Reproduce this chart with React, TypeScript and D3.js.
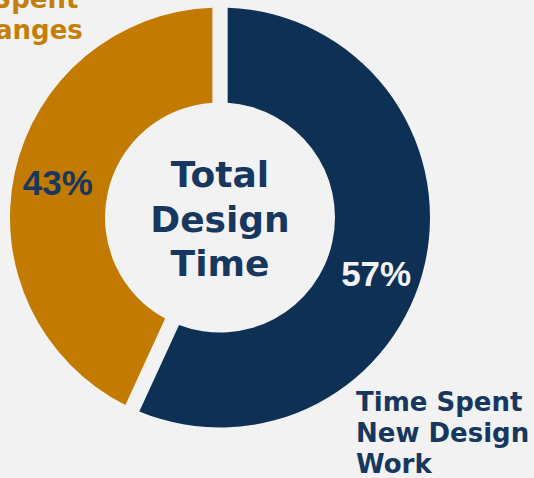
import React from 'react';
import * as d3 from 'd3';

interface Slice {
    name: string;
    value: number;
}

const sliceNames = ['Time Spent New Design Work', 'Time Spent on Changes'];
const sliceValues = [57, 43];
const sliceColors = ['#0e3055', '#c27a00'];
const pctColors = ['#f2f2f2', '#17375e'];
const centerLines = ['Total', 'Design', 'Time'];
const newWorkLines = ['Time Spent', 'New Design', 'Work'];
const changesLines = ['Time Spent', 'on Changes'];

const width = 534;
const height = 478;

export default function App() {
    const cx = 220;
    const cy = 217.5;
    const outerR = 210;
    const innerR = 115;

    const data: Slice[] = sliceNames.map((name, i) => ({ name, value: sliceValues[i] }));

    const pie = d3.pie<Slice>()
        .value(d => d.value)
        .sort(null)
        .padAngle(0.064);

    const arc = d3.arc<d3.PieArcDatum<Slice>>()
        .innerRadius(innerR)
        .outerRadius(outerR);

    // labels sit a bit outside the band midline, like the original
    const labelArc = d3.arc<d3.PieArcDatum<Slice>>()
        .innerRadius(166)
        .outerRadius(166);

    const arcs = pie(data);

    // excel nudged the big label down a little
    const labelShift = [0.13, 0];

    const labelFont = '"DejaVu Sans", Verdana, sans-serif';
    const pctFont = '"Liberation Sans", Arial, sans-serif';

    return (
        <svg width={width} height={height} style={{ position: 'absolute', left: 0, top: 0 }}>
            <rect width={width} height={height} fill="#f2f2f2" />
            <g transform={`translate(${cx},${cy})`}>
                {arcs.map((a, i) => (
                    <path key={a.data.name} d={arc(a) || ''} fill={sliceColors[i]} />
                ))}
                {arcs.map((a, i) => {
                    const shifted = {
                        ...a,
                        startAngle: a.startAngle + labelShift[i],
                        endAngle: a.endAngle + labelShift[i],
                    };
                    const [lx, ly] = labelArc.centroid(shifted);
                    return (
                        <text
                            key={'pct' + i}
                            x={lx}
                            y={ly}
                            textAnchor="middle"
                            dominantBaseline="central"
                            fontFamily={pctFont}
                            fontWeight="bold"
                            fontSize={35}
                            fill={pctColors[i]}
                        >
                            {a.data.value}%
                        </text>
                    );
                })}
                {centerLines.map((t, i) => (
                    <text
                        key={t}
                        x={0}
                        y={(i - 1) * 44.5 + 14}
                        textAnchor="middle"
                        fontFamily={labelFont}
                        fontWeight="bold"
                        fontSize={36}
                        fill="#17375e"
                    >
                        {t}
                    </text>
                ))}
            </g>
            {newWorkLines.map((t, i) => (
                <text
                    key={'nw' + i}
                    x={356}
                    y={411 + i * 31}
                    fontFamily={labelFont}
                    fontWeight="bold"
                    fontSize={26}
                    fill="#17375e"
                >
                    {t}
                </text>
            ))}
            {changesLines.map((t, i) => (
                <text
                    key={'ch' + i}
                    x={-88}
                    y={8 + i * 31}
                    fontFamily={labelFont}
                    fontWeight="bold"
                    fontSize={26}
                    fill="#c47f0a"
                >
                    {t}
                </text>
            ))}
        </svg>
    );
}
